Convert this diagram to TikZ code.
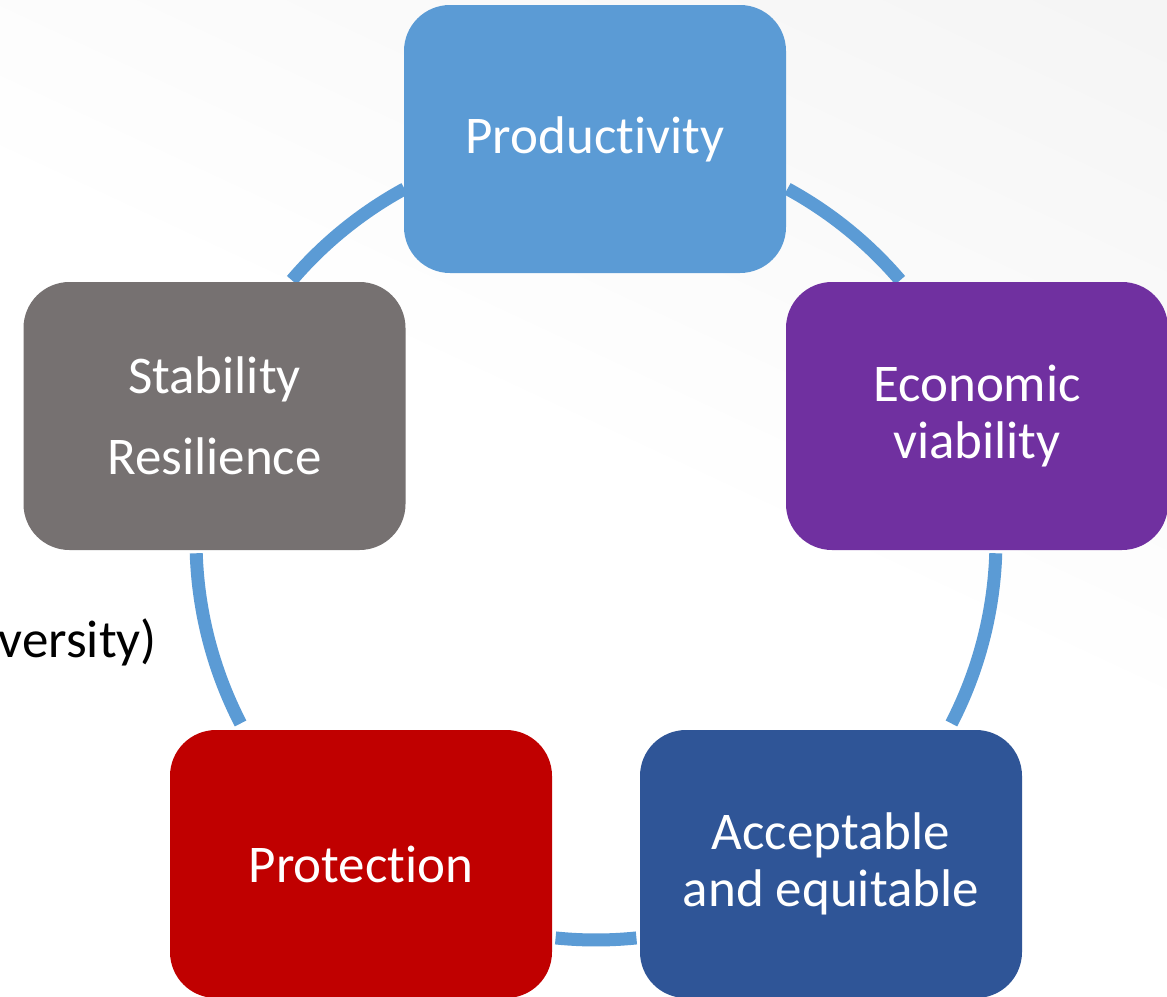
\documentclass[tikz,border=0pt]{standalone}
\usepackage{fontspec}
\setmainfont{Carlito}[Ligatures={NoCommon,NoContextual}]
\definecolor{ringblue}{HTML}{5B9BD5}
\definecolor{prodblue}{HTML}{5B9BD5}
\definecolor{econpurple}{HTML}{7030A0}
\definecolor{stabgray}{HTML}{767171}
\definecolor{protred}{HTML}{C00000}
\definecolor{accblue}{HTML}{2F5597}
\definecolor{bggray}{HTML}{EFEFEF}
% background wash: white for the lower part, fading to grey at the top
\pgfdeclareverticalshading{bgwash}{100bp}{color(0bp)=(white); color(52bp)=(white); color(100bp)=(bggray)}
\begin{document}
\begin{tikzpicture}[x=1pt,y=-1pt,
  block/.style={rounded corners=46pt, minimum width=382pt, minimum height=268pt,
    inner sep=0pt, text=white, align=center,
    font=\fontsize{53}{57}\selectfont},
  ring/.style={draw=ringblue, line width=13pt},
  sidetext/.style={text=black, inner sep=0pt, font=\fontsize{53}{57}\selectfont}]
\useasboundingbox (0,0) rectangle (1167,996);
\clip (0,0) rectangle (1167,996);

% soft grey wash towards the upper right corner
\fill[white] (0,0) rectangle (1167,996);
\shade[shading=bgwash, shading angle=-25] (0,0) rectangle (1167,996);

% centre of the ring the five blocks sit on
\coordinate (ctr) at (596,540);

% ring segments between neighbouring blocks
\draw[ring] ([shift={(ctr)}]-139.5:400) arc[start angle=-139.5, end angle=-118.6, radius=400];
\draw[ring] ([shift={(ctr)}]-61.4:400) arc[start angle=-61.4, end angle=-40.5, radius=400];
\draw[ring] ([shift={(ctr)}]1.9:400) arc[start angle=1.9, end angle=27.3, radius=400];
\draw[ring] ([shift={(ctr)}]84.2:400) arc[start angle=84.2, end angle=95.8, radius=400];
\draw[ring] ([shift={(ctr)}]152.7:400) arc[start angle=152.7, end angle=178.1, radius=400];

% the five blocks
\node[block, fill=prodblue]   (prod) at (595,139)   {Productivity};
\node[block, fill=econpurple] (econ) at (977,416)   {Economic\\viability};
\node[block, fill=stabgray]   (stab) at (214.5,416) {Stability\\[24pt]Resilience};
\node[block, fill=protred]    (prot) at (361,864)   {Protection};
\node[block, fill=accblue]    (acc)  at (831,864)   {Acceptable\\and equitable};

% text running in from the left edge
\node[sidetext, anchor=base east] (side) at (157,657) {versity)};
\end{tikzpicture}
\end{document}
